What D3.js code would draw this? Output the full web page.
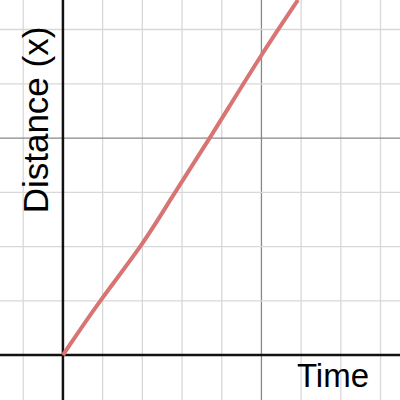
<!DOCTYPE html><html><head><meta charset="utf-8"><script src="https://cdn.jsdelivr.net/npm/d3@7"></script>
<style>body{margin:0}svg{display:block}</style></head><body><script>
const timeVals=[0,0.186,0.398,0.539,0.741,0.997,1.184];
const distVals=[0,0.253,0.502,0.714,1.0,1.382,1.636];
const xMinor=d3.range(-0.2,1.8,0.2), yMinor=d3.range(-0.25,1.7,0.25);
const W=400,H=400;
const x=d3.scaleLinear().domain([-0.317,1.698]).range([0,W]);
const y=d3.scaleLinear().domain([-0.207,1.636]).range([H,0]);
const svg=d3.select("body").append("svg").attr("width",W).attr("height",H).style("background","#fff");
svg.selectAll(".vx").data(xMinor).enter().append("line").attr("x1",d=>x(d)).attr("x2",d=>x(d)).attr("y1",0).attr("y2",H)
 .attr("stroke",d=>Math.abs(d-1)<1e-6?"#888":"#d8d8d8").attr("stroke-width",1.3);
svg.selectAll(".hy").data(yMinor).enter().append("line").attr("y1",d=>y(d)).attr("y2",d=>y(d)).attr("x1",0).attr("x2",W)
 .attr("stroke",d=>Math.abs(d-1)<1e-6?"#888":"#d8d8d8").attr("stroke-width",1.3);
svg.append("line").attr("x1",x(0)).attr("x2",x(0)).attr("y1",0).attr("y2",H).attr("stroke","#111").attr("stroke-width",2.5);
svg.append("line").attr("y1",y(0)).attr("y2",y(0)).attr("x1",0).attr("x2",W).attr("stroke","#111").attr("stroke-width",2.5);
svg.append("path").datum(timeVals.map((t,i)=>[t,distVals[i]])).attr("fill","none").attr("stroke","#d87473").attr("stroke-width",4)
 .attr("d",d3.line().x(d=>x(d[0])).y(d=>y(d[1])).curve(d3.curveBasis));
svg.append("text").attr("x",369).attr("y",387).attr("text-anchor","end").attr("font-family","Liberation Sans, Arial").attr("font-size",33).text("Time");
svg.append("text").attr("transform","translate(48,120) rotate(-90)").attr("text-anchor","middle").attr("font-family","Liberation Sans, Arial").attr("font-size",35).text("Distance (x)");
</script></body></html>
